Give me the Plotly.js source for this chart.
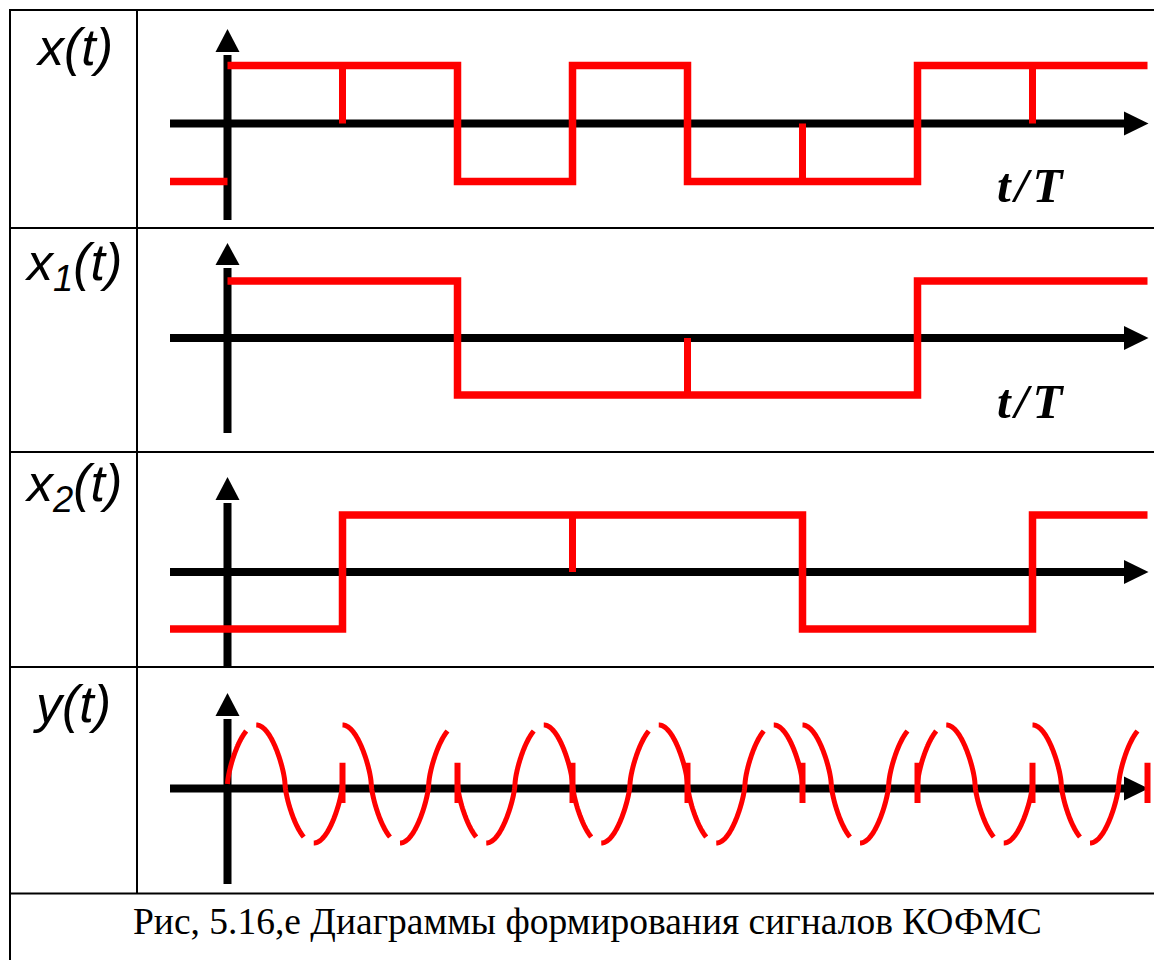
<!DOCTYPE html>
<html>
<head>
<meta charset="utf-8">
<script src="https://cdn.plot.ly/plotly-3.0.1.min.js"></script>
<style>html,body{margin:0;padding:0;background:#fff}#chart{width:1154px;height:960px}</style>
</head>
<body>
<div id="chart"></div>
<script>
// ---------------- data ----------------
const tStart = -0.5;                                   // signals drawn from t/T = -0.5
const xTimes = [0, 1, 2, 3, 4, 5, 6, 7, 8];            // x(t) bit boundaries, t/T
const xVals  = [1, 1, -1, 1, -1, -1, 1, 1];            // x(t) level on each bit interval
const xPrev  = -1;                                     // x(t) level before t = 0
const x1Times = [0, 2, 4, 6, 8];                       // x1(t) boundaries
const x1Vals  = [1, -1, -1, 1];                        // x1(t) levels
const x2Times = [tStart, 1, 3, 5, 7, 8];               // x2(t) boundaries
const x2Vals  = [-1, 1, 1, -1, 1];                     // x2(t) levels
const yPhaseDeg = [0, 90, 180, 180, 180, 90, 0, 90];   // y(t) carrier phase per T interval
const yBarTimes = [1, 2, 3, 4, 5, 6, 7, 8];            // y(t) interval marks
const rowLabels = ['x(t)', 'x<sub>1</sub>(t)', 'x<sub>2</sub>(t)', 'y(t)'];
const axisLabel = 't\u200A/\u200AT';
const caption = 'Рис, 5.16,е Диаграммы формирования сигналов КОФМС';

// ---------------- geometry / style ----------------
const W = 1154, H = 960;
const T_PX = 115, T0_PX = 227.5;
const RED = '#ff0000';
const tp = px => (px - T0_PX) / T_PX;
const rows = [
  {top: 10,  bottom: 228,   zero: 123.5, amp: 58, axisPx: 123.5, vTip: 29,  vBase: 52,  vBot: 220},
  {top: 228, bottom: 452,   zero: 338,   amp: 57, axisPx: 338,   vTip: 243, vBase: 265, vBot: 433},
  {top: 452, bottom: 667,   zero: 572,   amp: 57, axisPx: 572,   vTip: 477, vBase: 500, vBot: 667},
  {top: 667, bottom: 893.5, zero: 784,   amp: 59, axisPx: 788.5, vTip: 693, vBase: 716, vBot: 884}
];
const vp = (r, px) => (r.zero - px) / r.amp;
const yNames = ['y', 'y2', 'y3', 'y4'];

const traces = [];
function stepTrace(times, vals, ya) {
  traces.push({x: times, y: vals.concat([vals[vals.length - 1]]), xaxis: 'x', yaxis: ya,
    mode: 'lines', line: {shape: 'hv', color: RED, width: 7.5}, hoverinfo: 'skip'});
  const mx = [], my = [];
  for (let i = 1; i < vals.length; i++) {
    if (vals[i] === vals[i - 1]) { mx.push(times[i], times[i], null); my.push(vals[i], 0, null); }
  }
  if (mx.length) traces.push({x: mx, y: my, xaxis: 'x', yaxis: ya, mode: 'lines',
    line: {color: RED, width: 7}, hoverinfo: 'skip'});
}
// x(t)
traces.push({x: [tStart, 0], y: [xPrev, xPrev], xaxis: 'x', yaxis: 'y', mode: 'lines',
  line: {color: RED, width: 7.5}, hoverinfo: 'skip'});
stepTrace(xTimes, xVals, 'y');
// x1(t), x2(t)
stepTrace(x1Times, x1Vals, 'y2');
stepTrace(x2Times, x2Vals, 'y3');

// y(t): carrier arcs, drawn from one extremum to the next with a small gap
const gap = 0.087, N = 120, shapeExp = 0.68;   // drawn arcs are squarer than a pure sine
const ax = [], ay = [];
yPhaseDeg.forEach((deg, k) => {
  const ph = deg * Math.PI / 180;
  const brk = [k];
  for (let n = -2; n < 6; n++) {
    const te = k + (Math.PI / 2 + n * Math.PI - ph) / (2 * Math.PI);
    if (te > k + 1e-9 && te <= k + 1 + 1e-9) brk.push(te);
  }
  if (Math.abs(brk[brk.length - 1] - (k + 1)) > 1e-9) brk.push(k + 1);
  brk.sort((a, b) => a - b);
  for (let i = 0; i < brk.length - 1; i++) {
    const a = brk[i];
    const bRaw = brk[i + 1];
    const isExt = Math.abs(Math.cos(2 * Math.PI * (bRaw - k) + ph)) < 1e-6;
    const b = isExt ? bRaw - gap : bRaw;
    if (b <= a) continue;
    for (let j = 0; j <= N; j++) {
      const t = a + (b - a) * j / N;
      const s = Math.sin(2 * Math.PI * (t - k) + ph);
      ax.push(t); ay.push(Math.sign(s) * Math.pow(Math.abs(s), shapeExp));
    }
    ax.push(null); ay.push(null);
  }
});
traces.push({x: ax, y: ay, xaxis: 'x', yaxis: 'y4', mode: 'lines',
  line: {color: RED, width: 5, simplify: false}, hoverinfo: 'skip'});
const bx = [], by = [];
yBarTimes.forEach(t => { bx.push(t, t, null); by.push(0.36, -0.32, null); });
traces.push({x: bx, y: by, xaxis: 'x', yaxis: 'y4', mode: 'lines',
  line: {color: RED, width: 6}, hoverinfo: 'skip'});

// ---------------- shapes ----------------
const shapes = [];
rows.forEach((r, i) => {
  const yr = yNames[i];
  const va = vp(r, r.axisPx);
  const h = 12 / r.amp;
  shapes.push({type: 'line', xref: 'x', yref: yr, x0: tp(170), x1: tp(1130), y0: va, y1: va,
    line: {color: '#000', width: 8}, layer: 'below'});
  shapes.push({type: 'path', xref: 'x', yref: yr, layer: 'below',
    path: `M ${tp(1124)},${va + h} L ${tp(1148.5)},${va} L ${tp(1124)},${va - h} Z`,
    fillcolor: '#000', line: {width: 0}});
  const hw = 12 / T_PX;
  shapes.push({type: 'line', xref: 'x', yref: yr, x0: 0, x1: 0, y0: vp(r, r.vBot), y1: vp(r, r.vBase + 3),
    line: {color: '#000', width: 8}, layer: 'below'});
  shapes.push({type: 'path', xref: 'x', yref: yr, layer: 'below',
    path: `M ${-hw},${vp(r, r.vBase)} L 0,${vp(r, r.vTip)} L ${hw},${vp(r, r.vBase)} Z`,
    fillcolor: '#000', line: {width: 0}});
});
// table grid
const px = v => v / W, py = v => 1 - v / H;
const hl = y => ({type: 'line', xref: 'paper', yref: 'paper', x0: px(9), x1: 1, y0: py(y), y1: py(y),
  line: {color: '#000', width: 2}});
[10, 228, 452, 667, 893.5].forEach(y => shapes.push(hl(y)));
shapes.push({type: 'line', xref: 'paper', yref: 'paper', x0: px(10), x1: px(10), y0: py(9), y1: 0,
  line: {color: '#000', width: 2}});
shapes.push({type: 'line', xref: 'paper', yref: 'paper', x0: px(137), x1: px(137), y0: py(10), y1: py(893.5),
  line: {color: '#000', width: 2}});

// ---------------- annotations ----------------
const labelPos = [[74, 47], [73, 266], [73, 487], [72, 704]];
const annotations = rowLabels.map((txt, i) => ({
  text: txt, xref: 'paper', yref: 'paper',
  x: px(labelPos[i][0]), y: py(labelPos[i][1]), xanchor: 'center', yanchor: 'middle', showarrow: false,
  font: {family: 'Liberation Sans, Arial, sans-serif', size: 52, style: 'italic', color: '#000'}
}));
[[1030, 186], [1030, 401]].forEach(p => annotations.push({
  text: axisLabel, xref: 'paper', yref: 'paper', x: px(p[0]), y: py(p[1]),
  xanchor: 'center', yanchor: 'middle', showarrow: false,
  font: {family: 'Liberation Serif, Times New Roman, serif', size: 49, style: 'italic', weight: 'bold', color: '#000'}
}));
annotations.push({
  text: caption, xref: 'paper', yref: 'paper', x: px(587), y: py(921), xanchor: 'center', yanchor: 'middle',
  showarrow: false, font: {family: 'Liberation Serif, Times New Roman, serif', size: 37.5, color: '#000'}
});

// ---------------- layout ----------------
const layout = {
  width: W, height: H, margin: {l: 0, r: 0, t: 0, b: 0},
  paper_bgcolor: '#fff', plot_bgcolor: 'rgba(0,0,0,0)', showlegend: false,
  xaxis: {domain: [0, 1], range: [tp(0), tp(W)], visible: false, fixedrange: true},
  shapes: shapes, annotations: annotations
};
rows.forEach((r, i) => {
  const key = i === 0 ? 'yaxis' : 'yaxis' + (i + 1);
  layout[key] = {domain: [1 - r.bottom / H, 1 - r.top / H], range: [vp(r, r.bottom), vp(r, r.top)],
    visible: false, fixedrange: true, anchor: 'x'};
});

Plotly.newPlot('chart', traces, layout, {displayModeBar: false, staticPlot: true});
</script>
</body>
</html>
